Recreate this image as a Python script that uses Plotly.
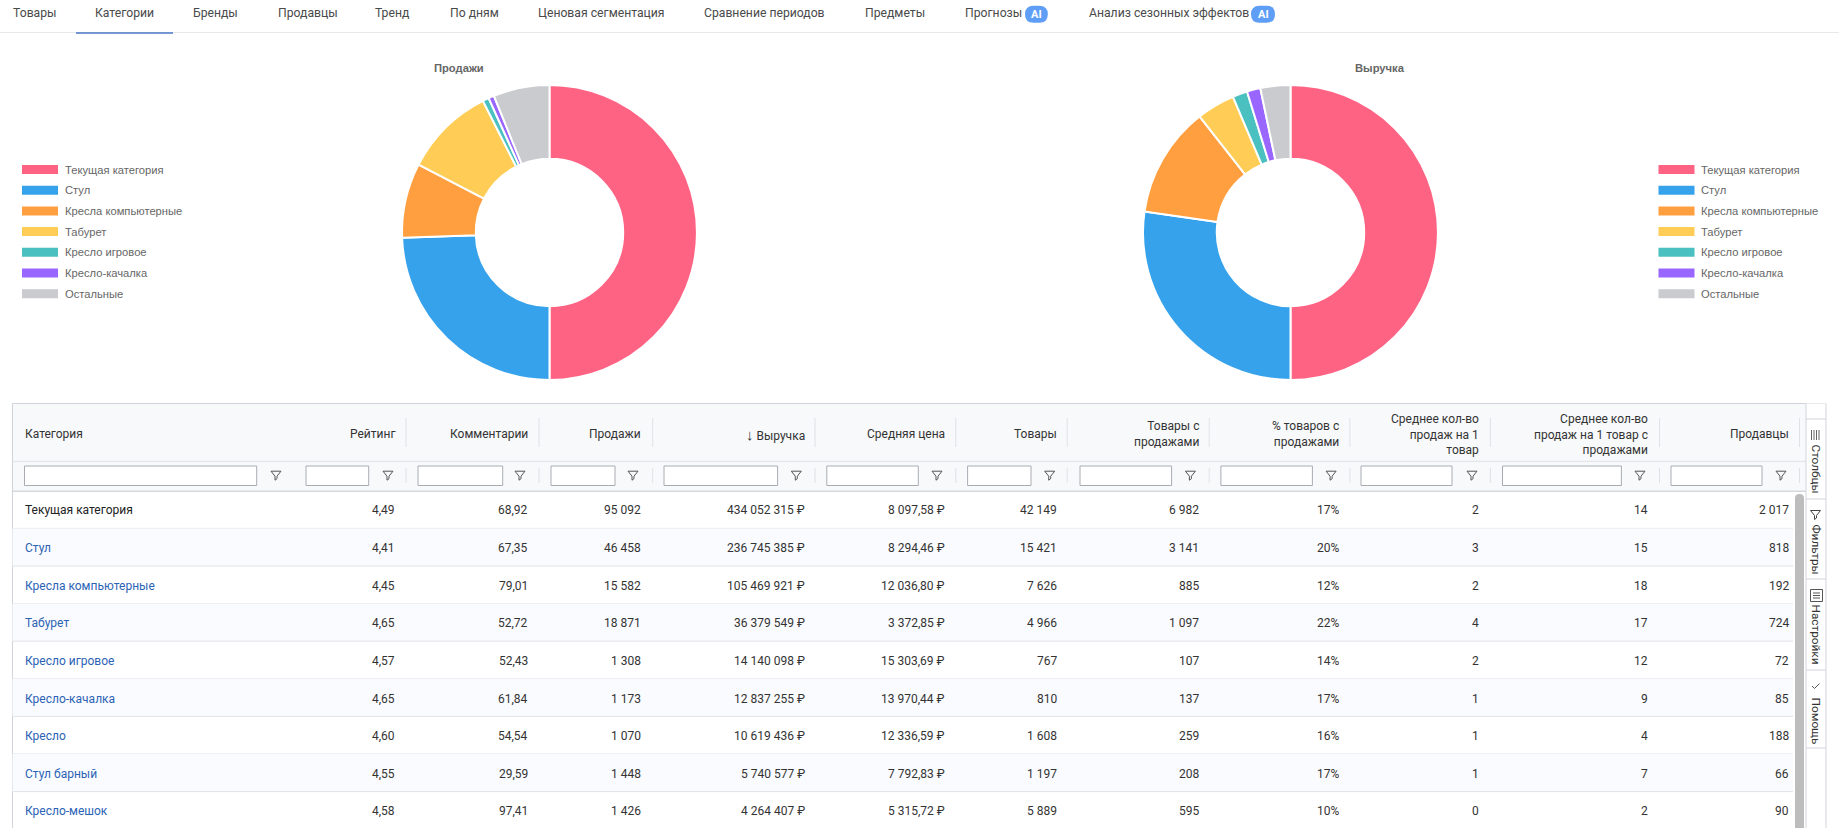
import plotly.graph_objects as go

W, H = 1839, 828

# ---- data ----
tab_labels = ["Товары", "Категории", "Бренды", "Продавцы", "Тренд", "По дням", "Ценовая сегментация",
              "Сравнение периодов", "Предметы", "Прогнозы", "Анализ сезонных эффектов"]
legend_labels = ["Текущая категория", "Стул", "Кресла компьютерные", "Табурет", "Кресло игровое",
                 "Кресло-качалка", "Остальные"]
pie_colors = ["#ff6384", "#36a2eb", "#ff9f40", "#ffcd56", "#4bc0c0", "#9966ff", "#c9cbcf"]
sales_values = [95092, 46458, 15582, 18871, 1308, 1173, 11700]
revenue_values = [434052315, 236745385, 105469921, 36379549, 14140098, 12837255, 28480107]

headers = ["Категория", "Рейтинг", "Комментарии", "Продажи",
           "<span style=\"font-family:'Liberation Sans';font-size:15px\">↓</span> Выручка", "Средняя цена", "Товары",
           "Товары с<br>продажами", "% товаров с<br>продажами", "Среднее кол-во<br>продаж на 1<br>товар",
           "Среднее кол-во<br>продаж на 1 товар с<br>продажами", "Продавцы"]
col_category = ["Текущая категория", "Стул", "Кресла компьютерные", "Табурет", "Кресло игровое",
                "Кресло-качалка", "Кресло", "Стул барный", "Кресло-мешок"]
col_rating = ["4,49", "4,41", "4,45", "4,65", "4,57", "4,65", "4,60", "4,55", "4,58"]
col_comments = ["68,92", "67,35", "79,01", "52,72", "52,43", "61,84", "54,54", "29,59", "97,41"]
col_sales = ["95 092", "46 458", "15 582", "18 871", "1 308", "1 173", "1 070", "1 448", "1 426"]
col_revenue = ["434 052 315 ₽", "236 745 385 ₽", "105 469 921 ₽", "36 379 549 ₽", "14 140 098 ₽",
               "12 837 255 ₽", "10 619 436 ₽", "5 740 577 ₽", "4 264 407 ₽"]
col_price = ["8 097,58 ₽", "8 294,46 ₽", "12 036,80 ₽", "3 372,85 ₽", "15 303,69 ₽", "13 970,44 ₽",
             "12 336,59 ₽", "7 792,83 ₽", "5 315,72 ₽"]
col_goods = ["42 149", "15 421", "7 626", "4 966", "767", "810", "1 608", "1 197", "5 889"]
col_goods_sold = ["6 982", "3 141", "885", "1 097", "107", "137", "259", "208", "595"]
col_pct = ["17%", "20%", "12%", "22%", "14%", "17%", "16%", "17%", "10%"]
col_avg = ["2", "3", "2", "4", "2", "1", "1", "1", "0"]
col_avg_sold = ["14", "15", "18", "17", "12", "9", "4", "7", "2"]
col_sellers = ["2 017", "818", "192", "724", "72", "85", "188", "66", "90"]
side_labels = ["Столбцы", "Фильтры", "Настройки", "Помощь"]

value_cols = [col_rating, col_comments, col_sales, col_revenue, col_price, col_goods, col_goods_sold,
              col_pct, col_avg, col_avg_sold, col_sellers]

# ---- page geometry (screen pixels) ----
tab_left = [12.5, 95, 193, 278, 375, 450, 538, 704, 864.5, 965, 1088.5]
col_right = [395, 528, 641, 804.5, 945.5, 1057, 1198.5, 1339, 1479, 1648, 1788.5]
col_sep = [406, 539, 652.7, 815, 955.8, 1067.2, 1209.2, 1349.9, 1490.4, 1659.5, 1799.5]
input_box = [(24.5, 256.7), (306, 368.7), (418, 502.7), (551, 615), (664, 777.6), (826.8, 918.3),
             (967.6, 1031), (1080, 1171.6), (1220.9, 1312.4), (1361, 1452), (1502.5, 1621.4), (1671, 1762)]
funnel_x = [276, 388, 520, 633, 796.3, 937, 1049.7, 1190.4, 1331.1, 1472, 1640, 1781]
row_top, row_h = 490.8, 37.6
table_left, table_top, table_body_right = 12.5, 403.5, 1793
side_left, side_right = 1806, 1826
side_seps = [419, 499, 579, 670, 748]
side_text_y = [469, 549, 634, 721]
legend_y = [169.5, 190.2, 210.9, 231.6, 252.3, 273, 293.7]
legend_swatch_x = [22, 1658.5]
legend_text_x = [65, 1701]
pie_r = 147.5
pie_cy = 232.5
pie_cx = [549.5, 1290.5]
pie_title_x = [459, 1380]

FONT = "Roboto"
ARIAL = "Liberation Sans"
shapes, annos = [], []


def fx(x):
    return x / W


def fy(y):
    return 1 - y / H


def rect(x0, y0, x1, y1, fill=None, line=None, lw=1):
    shapes.append(dict(type="rect", xref="paper", yref="paper", x0=fx(x0), x1=fx(x1), y0=fy(y0), y1=fy(y1),
                       fillcolor=fill or "rgba(0,0,0,0)", layer="below",
                       line=dict(color=line or "rgba(0,0,0,0)", width=lw if line else 0)))


def hline(x0, x1, y, color, lw=1):
    shapes.append(dict(type="line", xref="paper", yref="paper", x0=fx(x0), x1=fx(x1), y0=fy(y), y1=fy(y),
                       layer="below", line=dict(color=color, width=lw)))


def vline(x, y0, y1, color, lw=1):
    shapes.append(dict(type="line", xref="paper", yref="paper", x0=fx(x), x1=fx(x), y0=fy(y0), y1=fy(y1),
                       layer="below", line=dict(color=color, width=lw)))


def path(points, close=False, color="#555", lw=1.2, fill=None):
    d = "M" + " L".join(f"{fx(px):.5f},{fy(py):.5f}" for px, py in points) + (" Z" if close else "")
    shapes.append(dict(type="path", xref="paper", yref="paper", path=d, layer="above",
                       fillcolor=fill or "rgba(0,0,0,0)", line=dict(color=color, width=lw)))


def text(x, y, s, size=12, color="#333", anchor="left", family=FONT, angle=0, bold=False):
    annos.append(dict(xref="paper", yref="paper", x=fx(x), y=fy(y), text=f"<b>{s}</b>" if bold else s,
                      showarrow=False, xanchor=anchor, yanchor="middle", align=anchor, textangle=angle,
                      borderpad=0, borderwidth=0,
                      font=dict(family=family, size=size, color=color)))


def funnel(cx, cy, color="#555"):
    path([(cx - 5, cy - 4.5), (cx + 5, cy - 4.5), (cx + 1, cy + 0.5), (cx + 1, cy + 3), (cx - 1, cy + 4.5),
          (cx - 1, cy + 0.5)], close=True, color=color, lw=1)


def pill(x0, x1, y0, y1, fill):
    r = min(x1 - x0, y1 - y0) / 2
    d = (f"M{fx(x0 + r):.5f},{fy(y0):.5f} L{fx(x1 - r):.5f},{fy(y0):.5f} "
         f"Q{fx(x1):.5f},{fy(y0):.5f} {fx(x1):.5f},{fy(y0 + r):.5f} "
         f"L{fx(x1):.5f},{fy(y1 - r):.5f} "
         f"Q{fx(x1):.5f},{fy(y1):.5f} {fx(x1 - r):.5f},{fy(y1):.5f} "
         f"L{fx(x0 + r):.5f},{fy(y1):.5f} "
         f"Q{fx(x0):.5f},{fy(y1):.5f} {fx(x0):.5f},{fy(y1 - r):.5f} "
         f"L{fx(x0):.5f},{fy(y0 + r):.5f} "
         f"Q{fx(x0):.5f},{fy(y0):.5f} {fx(x0 + r):.5f},{fy(y0):.5f} Z")
    shapes.append(dict(type="path", xref="paper", yref="paper", path=d, layer="below",
                       fillcolor=fill, line=dict(width=0)))


# ---- tabs ----
for x, lab in zip(tab_left, tab_labels):
    text(x, 13.5, lab, size=12.2, color="#4a4a4a")
hline(0, W, 32.5, "#e6e8ec")
hline(76, 173, 33, "#4a78c8", 1.5)
for x0, x1 in [(1025, 1047.8), (1251, 1275)]:
    pill(x0, x1, 5.7, 22.7, "#5f9ef6")
    text((x0 + x1) / 2, 14.2, "AI", size=11, color="#ffffff", anchor="center", bold=True)

# ---- pies ----
traces = []
for cx, vals, name in zip(pie_cx, [sales_values, revenue_values], ["Продажи", "Выручка"]):
    traces.append(go.Pie(labels=legend_labels, values=vals, name=name, sort=False, direction="clockwise",
                         rotation=0, hole=0.5, textinfo="none", showlegend=False,
                         marker=dict(colors=pie_colors, line=dict(color="#ffffff", width=2)),
                         domain=dict(x=[fx(cx - pie_r), fx(cx + pie_r)],
                                     y=[fy(pie_cy + pie_r), fy(pie_cy - pie_r)])))
for x, t in zip(pie_title_x, ["Продажи", "Выручка"]):
    text(x, 67.5, t, size=11.2, color="#666666", anchor="center", family=ARIAL, bold=True)
for sx, tx in zip(legend_swatch_x, legend_text_x):
    for y, lab, c in zip(legend_y, legend_labels, pie_colors):
        rect(sx, y - 4.5, sx + 36, y + 4.5, fill=c)
        text(tx, y, lab, size=11.2, color="#666666", family=ARIAL)

# ---- table ----
rect(table_left, table_top, side_right, 491.3, fill="#f8f9fb")
hline(table_left, side_right, table_top, "#d0d4da")
hline(table_left, side_left, 461.3, "#dde0e5")
hline(table_left, side_left, 491.3, "#d5d8dd", 1.5)
vline(table_left, table_top, H, "#d0d4da")
for i in range(9):
    y0 = row_top + i * row_h
    if i % 2 == 1:
        rect(table_left, y0, table_body_right, y0 + row_h, fill="#fafbfe")
    hline(table_left, table_body_right, y0 + row_h, "#e0e3e8", 1)

text(24.5, 434, headers[0], size=12, color="#333")
for xr, sep, h in zip(col_right, col_sep, headers[1:]):
    text(xr, 434, h, size=12, color="#333", anchor="right")
    vline(sep, 418, 447, "#dfe2e6")
    vline(sep, 468, 483, "#dfe2e6")
for (x0, x1), fxp in zip(input_box, funnel_x):
    rect(x0, 466, x1, 485.5, fill="#ffffff", line="#a8acb2")
    funnel(fxp, 475.7)

for i, lab in enumerate(col_category):
    y = row_top + i * row_h + 19.7
    text(24.5, y, lab, size=12, color="#222" if i == 0 else "#2c63b5")
    for xr, col in zip(col_right, value_cols):
        text(xr, y, col[i], size=12, color="#333", anchor="right")

# scrollbar
pill(1795, 1804, 494, 900, "#bdbdbd")

# ---- side panel ----
rect(side_left, table_top, side_right, H, fill="#ffffff")
vline(side_left, table_top, H, "#d0d4da")
vline(side_right, table_top, H, "#d0d4da")
for y in side_seps:
    hline(side_left, side_right, y, "#d0d4da")
for y, lab in zip(side_text_y, side_labels):
    text(1815.5, y, lab, size=11.8, color="#333", anchor="center", angle=90)
for dx in (-4, -1.5, 1, 3.5):
    vline(1815.5 + dx, 430, 440, "#666")
funnel(1815.5, 515, "#444")
rect(1810.5, 589.5, 1822.5, 601.5, line="#555")
for dy in (-2.5, 0, 2.5):
    hline(1813, 1820, 595.5 + dy, "#555")
path([(1812, 686), (1814.5, 688.5), (1819.5, 683.5)], color="#555", lw=1)

fig = go.Figure(traces)
fig.update_layout(width=W, height=H, margin=dict(l=0, r=0, t=0, b=0), autosize=False,
                  paper_bgcolor="#ffffff", plot_bgcolor="#ffffff", showlegend=False,
                  shapes=shapes, annotations=annos, hovermode=False)
fig.write_html("out.html", config=dict(displayModeBar=False),
               post_script="document.documentElement.style.overflow='hidden';document.body.style.margin='0';")
